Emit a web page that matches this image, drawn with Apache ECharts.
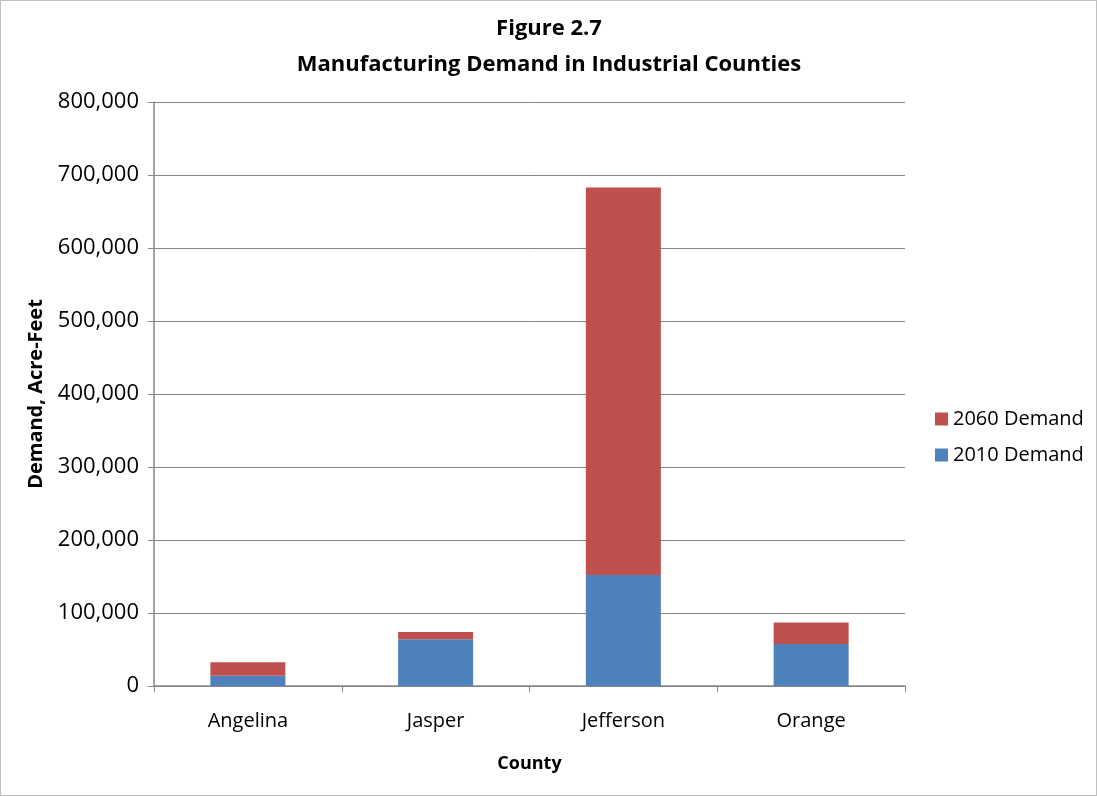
<!DOCTYPE html>
<html><head><meta charset="utf-8">
<script src="https://cdn.jsdelivr.net/npm/echarts@6/dist/echarts.min.js"></script>
<style>html,body{margin:0;padding:0;background:#fff}#c{width:1097px;height:796px;box-sizing:border-box;border:1px solid #bfbfbf}</style>
</head><body><div id="c"></div>
<script>
const categories = ['Angelina', 'Jasper', 'Jefferson', 'Orange'];
const demand2010 = [14100, 64000, 152000, 57500];
const demand2060 = [18400, 10000, 531000, 29500];
const seriesNames = ['2010 Demand', '2060 Demand'];

const chart = echarts.init(document.getElementById('c'));
const font = '"Open Sans", "Noto Sans", sans-serif';
chart.setOption({
  animation: false,
  textStyle: { fontFamily: font },
  title: {
    text: 'Figure 2.7\nManufacturing Demand in Industrial Counties',
    left: 543, top: 5, textAlign: 'center',
    textStyle: { fontFamily: font, fontSize: 22, fontWeight: 'bold', color: '#000', lineHeight: 36 }
  },
  legend: {
    orient: 'vertical', left: 929, top: 403, itemGap: 16,
    itemWidth: 13, itemHeight: 13, icon: 'rect',
    data: ['2060 Demand', '2010 Demand'],
    textStyle: { fontFamily: font, fontSize: 20, color: '#000' }
  },
  grid: { left: 153, right: 191, top: 101, bottom: 109 },
  xAxis: {
    type: 'category', data: categories,
    name: 'County', nameLocation: 'middle', nameGap: 69,
    nameTextStyle: { fontFamily: font, fontSize: 18, fontWeight: 'bold', color: '#000' },
    axisLine: { lineStyle: { color: '#868686', width: 1.5 } },
    axisTick: { show: true, length: 6, lineStyle: { color: '#868686' } },
    axisLabel: { fontFamily: font, fontSize: 20, color: '#000', margin: 25 }
  },
  yAxis: {
    type: 'value', min: 0, max: 800000, interval: 100000,
    name: 'Demand, Acre-Feet', nameLocation: 'middle', nameGap: 108, nameRotate: 90,
    nameTextStyle: { fontFamily: font, fontSize: 20, fontWeight: 'bold', color: '#000' },
    axisLine: { show: true, lineStyle: { color: '#868686', width: 1.5 } },
    axisTick: { show: true, length: 6, lineStyle: { color: '#868686' } },
    splitLine: { lineStyle: { color: '#868686', width: 1 } },
    axisLabel: { fontFamily: font, fontSize: 22, color: '#000', margin: 15,
      formatter: v => v.toLocaleString('en-US') }
  },
  series: [
    { name: seriesNames[0], type: 'bar', stack: 'd', data: demand2010, barWidth: 75,
      itemStyle: { color: '#4F81BD' } },
    { name: seriesNames[1], type: 'bar', stack: 'd', data: demand2060, barWidth: 75,
      itemStyle: { color: '#C0504D' } }
  ]
});
</script></body></html>
